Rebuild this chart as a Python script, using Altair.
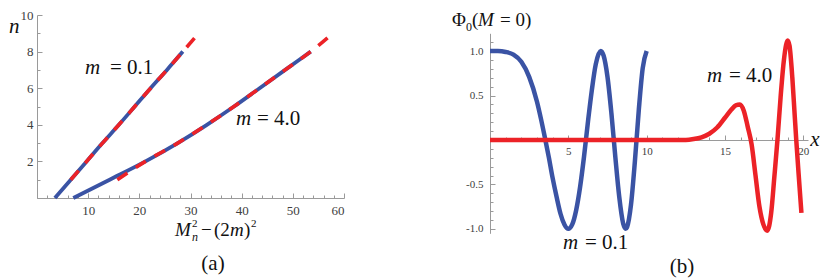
import altair as alt
import pandas as pd

BLUE = "#3A53A4"
RED = "#EC2227"
AXIS_GREY = "#9a9a9a"
LABEL_GREY = "#404040"
FONT = "'Liberation Serif', 'Times New Roman', 'DejaVu Serif', serif"

# ---------------- panel (a): n versus M_n^2 - (2m)^2 ----------------
a_n_blue = [0, 1, 2, 3, 4, 5, 6, 7, 8]
a_m01_blue = [3.5, 6.6, 9.7, 12.8, 16.0, 19.1, 22.2, 25.4, 28.5]
a_m4_blue = [7.1, 14.2, 21.2, 27.5, 33.2, 38.5, 43.5, 48.5, 53.5]
a_n_red = [1, 2, 3, 4, 5, 6, 7, 8, 9]
a_m01_red = [6.6, 9.7, 12.8, 16.0, 19.1, 22.2, 25.4, 28.5, 31.6]
a_m4_red = [15.7, 21.2, 27.5, 33.2, 38.5, 43.5, 48.5, 53.5, 57.8]

a_x_ticks = list(range(0, 61, 2))
a_y_ticks = [i * 0.5 for i in range(0, 21)]

# annotation texts of panel (a), placed in data coordinates
a_txt_text = ["m", "= 0.1", "m", "= 4.0", "n", "M", "n", "2", "\u2212", "(2", "m", ")", "2", "(a)"]
a_txt_x = [9.38, 14.27, 38.89, 43.0, -5.47, 26.97, 30.29, 30.29, 32.05, 34.59, 37.72, 40.46, 41.82, 34.4]
a_txt_y = [6.79, 6.79, 3.97, 3.97, 9.02, -2.077, -2.36, -1.61, -2.077, -2.077, -2.077, -2.077, -1.61, -3.91]
a_txt_size = [21, 21, 21, 21, 21, 19, 12, 11, 19, 19, 19, 19, 11, 21]
a_txt_italic = [1, 0, 1, 0, 1, 1, 1, 0, 0, 0, 1, 0, 0, 0]
a_txt_align = ["left", "left", "left", "left", "left", "left", "left", "left", "left", "left", "left", "left", "left", "center"]

# ---------------- panel (b): Phi_0(M = 0) versus x ----------------
b_x_blue = [0, 0.5, 1, 1.5, 2, 2.5, 3, 3.25, 3.5, 3.75, 4, 4.25, 4.5, 4.75, 5, 5.25, 5.5,
            5.75, 6, 6.25, 6.5, 6.75, 7.07, 7.25, 7.5, 7.75, 8, 8.25, 8.5, 8.66, 8.75, 9,
            9.25, 9.5, 9.75, 10]
b_y_blue = [1.00, 1.00, 0.99, 0.96, 0.88, 0.71, 0.43, 0.24, 0.03, -0.19, -0.43, -0.64, -0.83,
            -0.95, -1.00, -0.95, -0.79, -0.53, -0.19, 0.20, 0.56, 0.85, 1.00, 0.95, 0.71, 0.30,
            -0.19, -0.64, -0.94, -1.00, -0.98, -0.73, -0.24, 0.34, 0.81, 1.00]
b_x_red = [0, 6, 12.5, 13.0, 13.5, 14.0, 14.5, 15.0, 15.4, 15.7, 15.95, 16.2, 16.45, 16.7,
           16.95, 17.2, 17.45, 17.7, 17.95, 18.15, 18.35, 18.55, 18.75, 18.9, 19.0, 19.12,
           19.3, 19.45, 19.55, 19.7, 19.88]
b_y_red = [0, 0, 0.0, 0.01, 0.03, 0.07, 0.14, 0.25, 0.34, 0.39, 0.40, 0.33, 0.15, -0.05,
           -0.40, -0.75, -0.95, -1.02, -0.82, -0.42, 0.0, 0.48, 0.88, 1.07, 1.12, 1.06,
           0.70, 0.28, 0.0, -0.38, -0.82]

b_x_ticks = list(range(1, 21))
b_y_ticks = [round(-1.0 + 0.1 * i, 1) for i in range(0, 22)]

b_txt_text = ["m", "= 4.0", "m", "= 0.1", "(b)", "x", "\u03a6", "0", "(", "M", "= 0)"]
b_txt_x = [13.85, 15.25, 4.66, 6.06, 12.26, 20.45, -2.43, -1.53, -1.15, -0.77, 0.64]
b_txt_y = [0.652, 0.652, -1.227, -1.227, -1.497, -0.068, 1.282, 1.226, 1.282, 1.282, 1.282]
b_txt_size = [21, 21, 21, 21, 21, 21, 19, 12, 19, 19, 19]
b_txt_italic = [1, 0, 1, 0, 0, 1, 0, 0, 0, 1, 0]
b_txt_align = ["left", "left", "left", "left", "center", "left", "left", "left", "left", "left", "left"]

# ---------------- tables ----------------
df_a_blue = pd.DataFrame({
    "x": a_m01_blue + a_m4_blue,
    "n": a_n_blue + a_n_blue,
    "s": ["m01"] * len(a_n_blue) + ["m4"] * len(a_n_blue),
})
df_a_red = pd.DataFrame({
    "x": a_m01_red + a_m4_red,
    "n": a_n_red + a_n_red,
    "s": ["m01"] * len(a_n_red) + ["m4"] * len(a_n_red),
})
df_a_txt = pd.DataFrame({"t": a_txt_text, "x": a_txt_x, "n": a_txt_y, "size": a_txt_size,
                         "it": a_txt_italic, "al": a_txt_align})
df_b_blue = pd.DataFrame({"x": b_x_blue, "y": b_y_blue})
df_b_red = pd.DataFrame({"x": b_x_red, "y": b_y_red})
df_b_txt = pd.DataFrame({"t": b_txt_text, "x": b_txt_x, "y": b_txt_y, "size": b_txt_size,
                         "it": b_txt_italic, "al": b_txt_align})

# ---------------- panel (a) ----------------
W_A, W_B, H = 392, 421, 269

xa_scale = alt.Scale(domain=[0, 60], range=[29, 336], nice=False, zero=False)
ya_scale = alt.Scale(domain=[0, 10], range=[190, 7], nice=False, zero=False)

common_axis = dict(
    grid=False, title=None, domainColor=AXIS_GREY, tickColor=AXIS_GREY, domainWidth=1,
    tickWidth=1, labelFont=FONT, labelColor=LABEL_GREY,
)

axis_xa = alt.Axis(
    values=a_x_ticks, format="d", offset=-(H - 190), labelFontSize=13, labelPadding=11,
    labelExpr="datum.value % 10 === 0 && datum.value > 0 ? datum.label : ''",
    tickSize=alt.ExprRef("datum.value % 10 === 0 ? -5 : -3"),
    **common_axis,
)
axis_ya = alt.Axis(
    values=a_y_ticks, format="d", offset=-29, labelFontSize=13, labelPadding=9,
    labelExpr="datum.value % 2 === 0 && datum.value > 0 ? datum.label : ''",
    tickSize=alt.ExprRef("datum.value % 2 === 0 ? -5 : -3"),
    **common_axis,
)

XA = alt.X("x:Q", scale=xa_scale, axis=axis_xa)
YA = alt.Y("n:Q", scale=ya_scale, axis=axis_ya)

a_blue = alt.Chart(df_a_blue).mark_line(color=BLUE, strokeWidth=3.8, interpolate="monotone").encode(
    x=XA, y=YA, detail="s:N")
a_red = alt.Chart(df_a_red).mark_line(color=RED, strokeWidth=3.6, strokeDash=[12, 10],
                                      interpolate="monotone").encode(x=XA, y=YA, detail="s:N")


def text_layers(df, X, Y):
    layers = []
    for it in (0, 1):
        for al in ("left", "center"):
            sub = df[(df["it"] == it) & (df["al"] == al)]
            if len(sub) == 0:
                continue
            layers.append(
                alt.Chart(sub).mark_text(
                    font=FONT, fontStyle="italic" if it else "normal", align=al,
                    baseline="alphabetic", color="#111111",
                ).encode(x=X, y=Y, text="t:N", size=alt.Size("size:Q", scale=None, legend=None))
            )
    return layers


panel_a = alt.layer(a_blue, a_red, *text_layers(df_a_txt, XA, YA)).properties(width=W_A, height=H)

# ---------------- panel (b) ----------------
xb_scale = alt.Scale(domain=[0, 20.3], range=[90, 408], nice=False, zero=False)
yb_scale = alt.Scale(domain=[-1.05, 1.2], range=[225.3, 25.3], nice=False, zero=False)

axis_xb = alt.Axis(
    values=b_x_ticks, format="d", offset=-(H - 132), labelFontSize=11, labelPadding=10,
    labelExpr="datum.value % 5 === 0 ? datum.label : ''",
    tickSize=alt.ExprRef("datum.value % 5 === 0 ? -5 : -3"),
    **common_axis,
)
axis_yb = alt.Axis(
    values=b_y_ticks, offset=-90, labelFontSize=11, labelPadding=12,
    labelExpr=("abs(datum.value) > 0.01 && abs(round(datum.value * 10)) % 5 === 0 ? "
               "(datum.value < 0 ? '-' : '') + format(abs(datum.value), '.1f') : ''"),
    tickSize=alt.ExprRef("abs(round(datum.value * 10)) % 5 === 0 ? -5 : -3"),
    **common_axis,
)

XB = alt.X("x:Q", scale=xb_scale, axis=axis_xb)
YB = alt.Y("y:Q", scale=yb_scale, axis=axis_yb)

b_blue = alt.Chart(df_b_blue).mark_line(color=BLUE, strokeWidth=4.5, interpolate="monotone").encode(x=XB, y=YB)
b_red = alt.Chart(df_b_red).mark_line(color=RED, strokeWidth=4.5, interpolate="monotone").encode(x=XB, y=YB)

panel_b = alt.layer(b_blue, b_red, *text_layers(df_b_txt, XB, YB)).properties(width=W_B, height=H)

chart = (
    alt.hconcat(panel_a, panel_b, spacing=0, bounds="flush")
    .properties(padding=0, background="white")
    .configure_view(stroke=None)
)

chart.save("out.html", embed_options={"renderer": "svg", "actions": False})
